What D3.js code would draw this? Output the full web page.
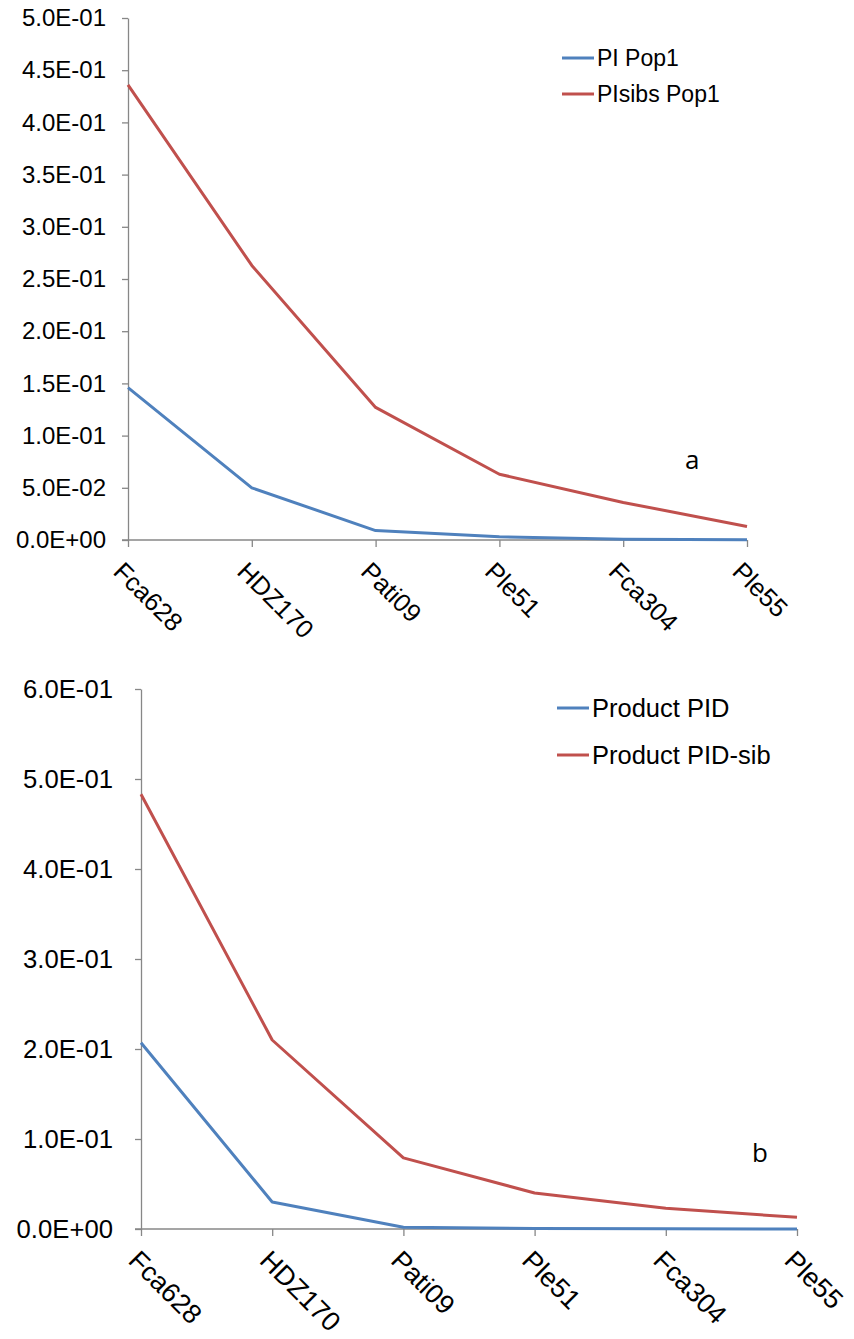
<!DOCTYPE html>
<html>
<head>
<meta charset="utf-8">
<script src="https://cdn.jsdelivr.net/npm/d3@7"></script>
<style>
  html, body { margin: 0; padding: 0; background: #fff; }
  svg { display: block; }
  text { font-family: Arial, "Liberation Sans", sans-serif; fill: #000; }
</style>
</head>
<body>
<svg id="chart" width="854" height="1339"></svg>
<script>
// ---- Data ----
const categories = ["Fca628", "HDZ170", "Pati09", "Ple51", "Fca304", "Ple55"];

// Chart a
const piPop1      = [0.146, 0.050, 0.009, 0.003, 0.0006, 0.0002];
const piSibsPop1  = [0.436, 0.263, 0.127, 0.063, 0.036, 0.013];
const yTicksA     = [0, 0.05, 0.10, 0.15, 0.20, 0.25, 0.30, 0.35, 0.40, 0.45, 0.50];
const yLabelsA    = ["0.0E+00","5.0E-02","1.0E-01","1.5E-01","2.0E-01","2.5E-01","3.0E-01","3.5E-01","4.0E-01","4.5E-01","5.0E-01"];
const seriesNamesA = ["PI Pop1", "PIsibs Pop1"];

// Chart b
const productPID    = [0.207, 0.030, 0.002, 0.0005, 0.0002, 0.0001];
const productPIDsib = [0.483, 0.210, 0.079, 0.040, 0.023, 0.013];
const yTicksB       = [0, 0.1, 0.2, 0.3, 0.4, 0.5, 0.6];
const yLabelsB      = ["0.0E+00","1.0E-01","2.0E-01","3.0E-01","4.0E-01","5.0E-01","6.0E-01"];
const seriesNamesB  = ["Product PID", "Product PID-sib"];

const colors = ["#4F81BD", "#C0504D"];
const axisColor = "#878787";
const FONT = 'Arial, "Liberation Sans", sans-serif';

const svg = d3.select("#chart");

function drawChart(cfg) {
  const g = svg.append("g");
  const x = d3.scalePoint().domain(categories).range([cfg.x0, cfg.x1]).padding(0);
  const y = d3.scaleLinear().domain([0, cfg.ymax]).range([cfg.y0, cfg.y1]);

  // Y axis
  const yAxis = d3.axisLeft(y)
    .tickValues(cfg.yTicks)
    .tickFormat((d, i) => cfg.yLabels[i])
    .tickSizeInner(6).tickSizeOuter(0).tickPadding(cfg.yPad);
  const ya = g.append("g").attr("transform", `translate(${cfg.x0},0)`).call(yAxis);
  ya.attr("font-family", null).attr("font-size", null);
  ya.select(".domain").attr("stroke", axisColor).attr("stroke-width", 1.3);
  ya.selectAll(".tick line").attr("stroke", axisColor).attr("stroke-width", 1.3);
  ya.selectAll(".tick text")
    .style("font-family", FONT)
    .style("font-size", cfg.yFont + "px")
    .attr("fill", "#111");

  // X axis
  const xAxis = d3.axisBottom(x).tickSizeInner(7).tickSizeOuter(0).tickFormat("");
  const xa = g.append("g").attr("transform", `translate(0,${cfg.y0})`).call(xAxis);
  xa.select(".domain").attr("stroke", axisColor).attr("stroke-width", 1.3)
    .attr("d", `M${cfg.x0 - 6},0H${cfg.x1}`);
  xa.selectAll(".tick line").attr("stroke", axisColor).attr("stroke-width", 1.3);

  // X labels rotated
  g.selectAll(".xlab").data(categories).enter().append("text")
    .attr("class", "xlab")
    .attr("transform", d => `translate(${x(d) - cfg.xlDx},${cfg.y0 + cfg.xlDy}) rotate(45)`)
    .attr("text-anchor", "start")
    .style("font-family", FONT)
    .style("font-size", cfg.xFont + "px")
    .attr("fill", "#111")
    .text(d => d);

  // Lines
  const line = d3.line().x((d, i) => x(categories[i])).y(d => y(d));
  cfg.series.forEach((s, k) => {
    g.append("path").datum(s)
      .attr("fill", "none")
      .attr("stroke", colors[k])
      .attr("stroke-width", 3)
      .attr("stroke-linejoin", "round")
      .attr("d", line);
  });

  // Legend
  cfg.names.forEach((n, k) => {
    const ly = cfg.legY + k * cfg.legGap;
    g.append("line")
      .attr("x1", cfg.legX).attr("x2", cfg.legX + 32)
      .attr("y1", ly).attr("y2", ly)
      .attr("stroke", colors[k]).attr("stroke-width", 3);
    g.append("text")
      .attr("x", cfg.legX + 35).attr("y", ly)
      .attr("dy", "0.36em")
      .style("font-family", FONT)
      .style("font-size", cfg.legFont + "px")
      .attr("fill", "#111")
      .text(n);
  });

  // Panel letter
  g.append("text")
    .attr("x", cfg.letterX).attr("y", cfg.letterY)
    .style("font-family", '"Open Sans", "Liberation Sans", sans-serif')
    .style("font-size", "26px")
    .attr("fill", "#111")
    .text(cfg.letter);
}

drawChart({
  x0: 128, x1: 747, y0: 540, y1: 18, ymax: 0.5,
  yTicks: yTicksA, yLabels: yLabelsA, yFont: 24, yPad: 16,
  xFont: 25.5, xlDx: 16, xlDy: 33,
  series: [piPop1, piSibsPop1], names: seriesNamesA,
  legX: 562, legY: 58, legGap: 36, legFont: 23,
  letter: "a", letterX: 685, letterY: 469
});

drawChart({
  x0: 141, x1: 797, y0: 1229, y1: 689, ymax: 0.6,
  yTicks: yTicksB, yLabels: yLabelsB, yFont: 25.7, yPad: 22,
  xFont: 27, xlDx: 14, xlDy: 33,
  series: [productPID, productPIDsib], names: seriesNamesB,
  legX: 557, legY: 708, legGap: 47, legFont: 25.5,
  letter: "b", letterX: 752, letterY: 1162
});
</script>
</body>
</html>
